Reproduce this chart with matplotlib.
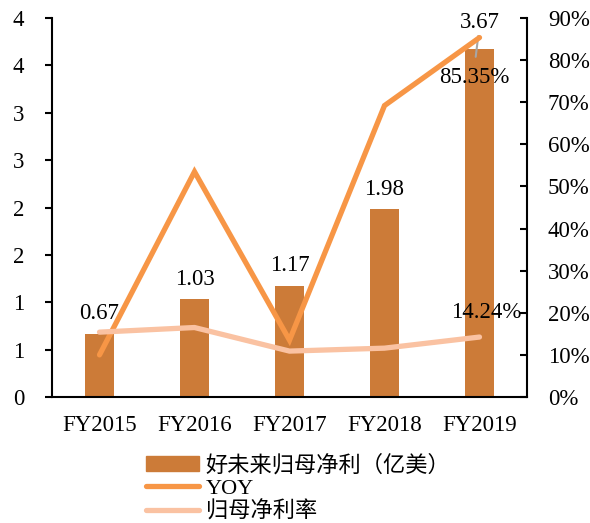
import matplotlib.pyplot as plt
from matplotlib.patches import Patch
from matplotlib.lines import Line2D
import numpy as np

categories = ['FY2015', 'FY2016', 'FY2017', 'FY2018', 'FY2019']
net_profit = [0.67, 1.03, 1.17, 1.98, 3.67]
yoy = [10.0, 53.5, 13.5, 69.2, 85.35]
margin = [15.4, 16.5, 10.9, 11.6, 14.24]
left_ticks = [0, 0.5, 1.0, 1.5, 2.0, 2.5, 3.0, 3.5, 4.0]
left_tick_labels = ['0', '1', '1', '2', '2', '3', '3', '4', '4']
right_ticks = [0, 10, 20, 30, 40, 50, 60, 70, 80, 90]

bar_color = '#CC7B38'
yoy_color = '#F79646'
margin_color = '#FAC2A2'

plt.rcParams['font.family'] = ['Liberation Serif', 'Noto Sans CJK SC']
plt.rcParams['font.size'] = 16.5

fig = plt.figure(figsize=(5.9, 5.23), dpi=100)
ax = fig.add_axes([52/590, 1-397/523, 475/590, 379/523])
ax2 = ax.twinx()

x = np.arange(len(categories))
ax.bar(x, net_profit, width=0.31, color=bar_color, zorder=1)
ax.set_xlim(-0.5, len(categories) - 0.5)
ax.set_ylim(0, 4.0)
ax.set_yticks(left_ticks)
ax.set_yticklabels(left_tick_labels)
ax.set_xticks(x)
ax.set_xticklabels(categories)
ax.tick_params(axis='x', length=0, pad=13)
ax.tick_params(axis='y', length=5, width=1.5, direction='out', pad=15)

for s in ['top', 'right']:
    ax.spines[s].set_visible(False)
ax.spines['left'].set_linewidth(1.5)
ax.spines['bottom'].set_linewidth(1.5)

for i, v in enumerate(net_profit[:-1]):
    ax.annotate(f'{v:.2f}', (x[i], v), xytext=(0, 7), textcoords='offset points',
                ha='center', va='bottom')
# 3.67 label sits above the bar with a short grey leader line
ax.annotate(f'{net_profit[-1]:.2f}', (x[-1] - 0.04, net_profit[-1] - 0.08),
            xytext=(3, 17), textcoords='offset points', ha='center', va='bottom',
            arrowprops=dict(arrowstyle='-', color='#A6A6A6', lw=1.5, shrinkA=0, shrinkB=0))

ax2.plot(x, yoy, color=yoy_color, lw=3.8, solid_capstyle='round', solid_joinstyle='miter')
ax2.plot(x, margin, color=margin_color, lw=3.8, solid_capstyle='round')
ax2.set_ylim(0, 90)
ax2.set_yticks(right_ticks)
ax2.set_yticklabels([f'{t}%' for t in right_ticks])
ax2.tick_params(axis='y', length=5, width=1.5, direction='in', pad=15)
for s in ['top', 'left', 'bottom']:
    ax2.spines[s].set_visible(False)
ax2.spines['right'].set_linewidth(1.5)

ax2.annotate(f'{yoy[-1]:.2f}%', (x[-1], yoy[-1]), xytext=(-4, -21), textcoords='offset points',
             ha='center', va='top')
ax2.annotate(f'{margin[-1]:.2f}%', (x[-1], margin[-1]), xytext=(5, 10), textcoords='offset points',
             ha='center', va='bottom')

handles = [
    Patch(color=bar_color),
    Line2D([], [], color=yoy_color, lw=3.8, solid_capstyle='round'),
    Line2D([], [], color=margin_color, lw=3.8, solid_capstyle='round'),
]
labels = ['好未来归母净利（亿美）', 'YOY', '归母净利率']
fig.legend(handles, labels, loc='upper left', bbox_to_anchor=(137/590, 1-446/523),
           frameon=False, handlelength=2.4, handleheight=0.6, handletextpad=0.3,
           labelspacing=0.12, borderaxespad=0, fontsize=16)

fig.savefig('out.png', dpi=100)
